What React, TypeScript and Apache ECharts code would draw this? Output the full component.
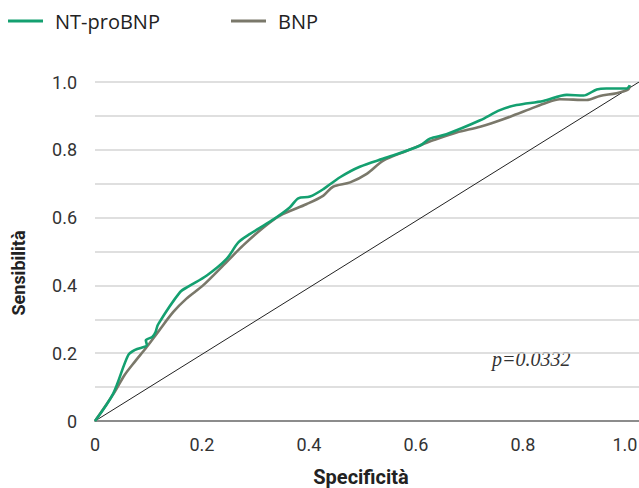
import React, { useEffect, useRef } from "react";
import * as echarts from "echarts";

const seriesNames = ["NT-proBNP", "BNP"];

const ntProBNP: [number, number][] = [
  [0, 0], [0.034, 0.081], [0.062, 0.194], [0.075, 0.21], [0.097, 0.224],
  [0.095, 0.238], [0.107, 0.248], [0.113, 0.262], [0.118, 0.285], [0.159, 0.38],
  [0.175, 0.397], [0.209, 0.429], [0.246, 0.478], [0.268, 0.527], [0.29, 0.552],
  [0.33, 0.591], [0.364, 0.63], [0.38, 0.657], [0.402, 0.662], [0.427, 0.684],
  [0.458, 0.719], [0.495, 0.75], [0.545, 0.777], [0.607, 0.812], [0.626, 0.833],
  [0.657, 0.846], [0.72, 0.887], [0.757, 0.917], [0.788, 0.932], [0.838, 0.944],
  [0.882, 0.962], [0.913, 0.96], [0.938, 0.978], [0.956, 0.981], [0.994, 0.981],
  [1.0, 0.99],
];

const bnp: [number, number][] = [
  [0, 0], [0.037, 0.086], [0.055, 0.135], [0.075, 0.176], [0.097, 0.219],
  [0.118, 0.263], [0.146, 0.321], [0.171, 0.361], [0.202, 0.4], [0.246, 0.469],
  [0.277, 0.518], [0.315, 0.571], [0.346, 0.606], [0.396, 0.64], [0.427, 0.665],
  [0.445, 0.691], [0.477, 0.704], [0.508, 0.729], [0.539, 0.768], [0.583, 0.797],
  [0.614, 0.817], [0.632, 0.828], [0.676, 0.851], [0.72, 0.868], [0.763, 0.89],
  [0.813, 0.92], [0.844, 0.939], [0.869, 0.949], [0.919, 0.947], [0.944, 0.959],
  [0.975, 0.967], [0.997, 0.978], [1.0, 0.99],
];

const reference: [number, number][] = [[0, 0], [1.017, 1]];

const xTickLabels = [0, 0.2, 0.4, 0.6, 0.8, 1.0];
const yTickLabels = [0, 0.2, 0.4, 0.6, 0.8, 1.0];

const pValueText = "p=0.0332";

const fmt = (v: number, list: number[]) => {
  const hit = list.find((t) => Math.abs(t - v) < 1e-6);
  if (hit === undefined) return "";
  return hit === 0 ? "0" : hit.toFixed(1);
};

export default function App() {
  const ref = useRef<HTMLDivElement>(null);
  useEffect(() => {
    if (!ref.current) return;
    const chart = echarts.init(ref.current, undefined, { renderer: "svg" });
    const green = "#14A070";
    const gray = "#7A786A";
    chart.setOption({
      animation: false,
      backgroundColor: "#ffffff",
      grid: { left: 95, right: 0, top: 82, bottom: 67, containLabel: false, outerBoundsMode: "none" },
      legend: [
        {
          left: 8, top: 11, padding: 0, data: [seriesNames[0]], icon: "rect", itemWidth: 35, itemHeight: 3,
          textStyle: { fontFamily: "Open Sans", fontSize: 20, color: "#222", padding: [0, 0, 0, 7] },
        },
        {
          left: 231, top: 11, padding: 0, data: [seriesNames[1]], icon: "rect", itemWidth: 35, itemHeight: 3,
          textStyle: { fontFamily: "Open Sans", fontSize: 20, color: "#222", padding: [0, 0, 0, 7] },
        },
      ],
      xAxis: {
        type: "value", min: 0, max: 1.017, interval: 0.2,
        name: "Specificità", nameLocation: "middle", nameGap: 46,
        nameTextStyle: { fontFamily: "Roboto", fontWeight: "bold", fontSize: 20, color: "#222", padding: [0, 12, 0, 0] },
        axisLine: { show: true, lineStyle: { color: "#8c8c8c", width: 2 } },
        axisTick: { show: false },
        splitLine: { show: false },
        axisLabel: {
          margin: 14, fontFamily: "Roboto", fontSize: 18, color: "#333",
          formatter: (v: number) => {
            const s = fmt(v, xTickLabels);
            return s === "1.0" ? "{r|1.0}" : s;
          },
          rich: { r: { fontFamily: "Roboto", fontSize: 18, color: "#333", padding: [0, 10, 0, 0] } },
        },
      },
      yAxis: {
        type: "value", min: 0, max: 1, interval: 0.1,
        axisLine: { show: false },
        axisTick: { show: false },
        splitLine: { show: true, lineStyle: { color: "#d4d4d4", width: 1.5 } },
        axisLabel: {
          margin: 18, fontFamily: "Roboto", fontSize: 18, color: "#333",
          formatter: (v: number) => fmt(v, yTickLabels),
        },
      },
      graphic: [
        {
          type: "text", x: 18, y: 273, rotation: Math.PI / 2,
          style: {
            text: "Sensibilità", fontFamily: "Roboto", fontWeight: "bold", fontSize: 18,
            fill: "#222", textAlign: "center", textVerticalAlign: "middle",
          },
        },
        {
          type: "text", x: 492, y: 359,
          style: {
            text: pValueText, fontFamily: "Liberation Serif", fontStyle: "italic", fontSize: 20,
            fill: "#333", textAlign: "left", textVerticalAlign: "middle",
          },
        },
      ],
      series: [
        {
          type: "line", data: reference, showSymbol: false, silent: true,
          lineStyle: { color: "#222", width: 1 }, z: 1,
        },
        {
          name: seriesNames[1], type: "line", data: bnp, showSymbol: false, smooth: 0.3,
          color: gray, lineStyle: { color: gray, width: 2.6 }, z: 2,
        },
        {
          name: seriesNames[0], type: "line", data: ntProBNP, showSymbol: false, smooth: 0.3,
          color: green, lineStyle: { color: green, width: 2.6 }, z: 3,
        },
      ],
    });
    return () => chart.dispose();
  }, []);
  return (
    <div
      ref={ref}
      style={{ position: "fixed", left: 0, top: 0, width: 639, height: 488 }}
    />
  );
}
